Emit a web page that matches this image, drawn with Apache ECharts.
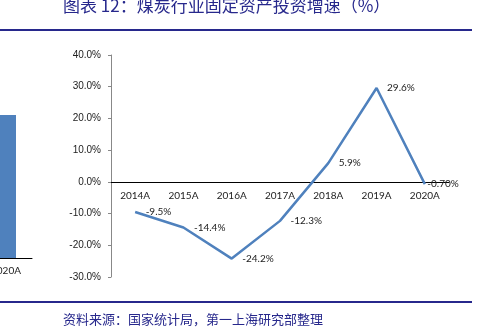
<!DOCTYPE html>
<html><head><meta charset="utf-8">
<script src="https://cdn.jsdelivr.net/npm/echarts@6/dist/echarts.min.js"></script>
<style>html,body{margin:0;padding:0;background:#fff}#c{width:478px;height:330px}</style>
</head><body><div id="c"></div>
<script>
var categories = ['2014A','2015A','2016A','2017A','2018A','2019A','2020A'];
var growth = [-9.5, -14.4, -24.2, -12.3, 5.9, 29.6, -0.70];
var growthLabels = ['-9.5%','-14.4%','-24.2%','-12.3%','5.9%','29.6%','-0.70%'];
var yTicks = [-30, 40, 10];
var leftCategories = ['2020A'];
var leftValues = [71.5];

var titleText = '图表 12：煤炭行业固定资产投资增速（%）';
var sourceText = '资料来源：国家统计局，第一上海研究部整理';
var navy = '#27288c';
var blue = '#4f81bd';

var chart = echarts.init(document.getElementById('c'), null, {renderer:'canvas'});
chart.setOption({
  animation:false,
  backgroundColor:'#fff',
  graphic:[
    {type:'text', left:63, top:-3, style:{text:titleText, fill:navy, font:'17px "Noto Sans CJK SC"'}},
    {type:'rect', shape:{x:0,y:29,width:472,height:2}, style:{fill:navy}},
    {type:'rect', shape:{x:0,y:301,width:472,height:2}, style:{fill:navy}},
    {type:'text', left:63, top:313, style:{text:sourceText, fill:navy, font:'13px "Noto Sans CJK SC"'}}
  ],
  grid:[
    {left:111, right:29, top:55, bottom:53, outerBoundsMode:'none'},
    {left:-20, width:52, top:58, bottom:72, outerBoundsMode:'none'}
  ],
  xAxis:[
    {type:'category', gridIndex:0, data:categories, boundaryGap:true, position:'bottom', offset:-95,
     axisLine:{onZero:false, lineStyle:{color:'#000', width:1}},
     axisTick:{inside:true, length:4, lineStyle:{color:'#000'}},
     axisLabel:{color:'#222', fontFamily:'Lato', fontSize:10, margin:9}},
    {type:'category', gridIndex:1, data:leftCategories,
     axisLine:{lineStyle:{color:'#000', width:1}},
     axisTick:{inside:true, length:5, lineStyle:{color:'#000'}},
     axisLabel:{color:'#222', fontFamily:'Lato', fontSize:10, margin:8}}
  ],
  yAxis:[
    {type:'value', gridIndex:0, min:yTicks[0], max:yTicks[1], interval:yTicks[2],
     axisLine:{show:true, lineStyle:{color:'#888', width:1}},
     axisTick:{show:true, length:3, lineStyle:{color:'#888'}},
     splitLine:{show:false},
     axisLabel:{color:'#222', fontFamily:'Liberation Sans', fontSize:10, margin:10,
       formatter:function(v){return v.toFixed(1)+'%';}}},
    {type:'value', gridIndex:1, min:0, max:100, show:false, splitLine:{show:false}}
  ],
  series:[
    {type:'line', xAxisIndex:0, yAxisIndex:0,
     data:growth.map(function(v,i){
       var d={value:v};
       if(i===growth.length-1){d.label={distance:2};}
       return d;}),
     showSymbol:true, symbol:'circle', symbolSize:1,
     itemStyle:{color:'rgba(0,0,0,0)', borderWidth:0},
     lineStyle:{color:blue, width:2.5},
     label:{show:true, position:'right', distance:10, color:'#222', fontFamily:'Lato', fontSize:10,
       formatter:function(p){return growthLabels[p.dataIndex];}}},
    {type:'bar', xAxisIndex:1, yAxisIndex:1, data:leftValues, barWidth:20,
     itemStyle:{color:blue}}
  ]
});
</script></body></html>
